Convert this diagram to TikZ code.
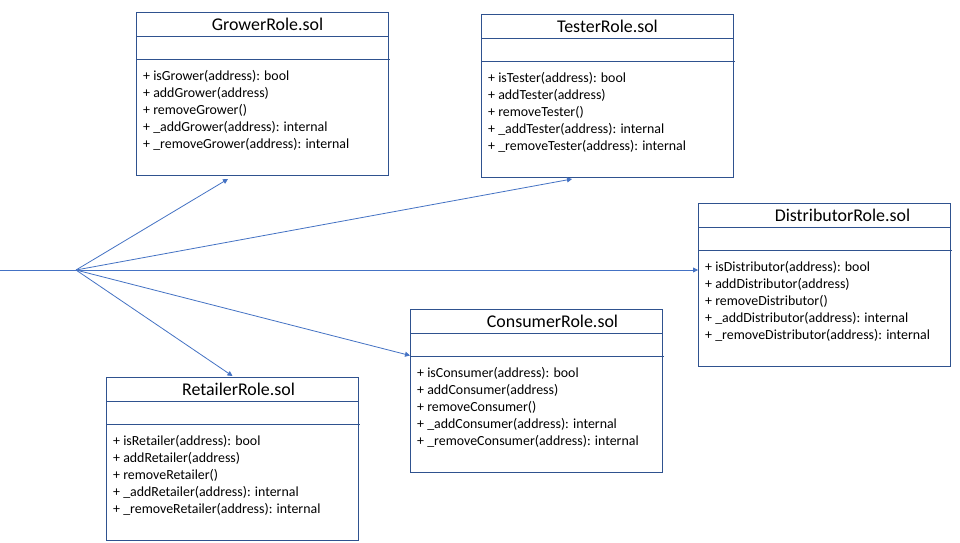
\documentclass[tikz,border=0pt]{standalone}
\usepackage{fontspec}
\setmainfont{Carlito}
\usetikzlibrary{arrows.meta}
\definecolor{boxc}{HTML}{2F528F}
\definecolor{arrc}{HTML}{4472C4}
\tikzset{
  boxnode/.style={draw=boxc, line width=1pt, minimum width=252pt, minimum height=163pt, inner sep=0pt},
  sepline/.style={draw=boxc, line width=0.9pt},
  titletext/.style={font=\fontsize{17.9}{20}\selectfont, inner sep=0pt, text=black},
  methtext/.style={font=\fontsize{13.9}{16}\selectfont, inner sep=0pt, anchor=west, text=black},
  conn/.style={draw=arrc, line width=0.8pt},
  arr/.style={conn, -{Triangle[width=5pt,length=5pt]}}
}
\newcommand\roleBox[5]{% #1 name, #2 x, #3 y, #4 word, #5 title dx
  \node[boxnode, anchor=north west] (#1) at (#2,#3) {};
  \draw[sepline] ([yshift=-24.5pt]#1.north west) -- ([yshift=-24.5pt]#1.north east);
  \draw[sepline] ([yshift=-47.5pt]#1.north west) -- ([xshift=1.2pt,yshift=-47.5pt]#1.north east);
  \node[titletext] (#1-title) at ([xshift=#5pt,yshift=-12.5pt]#1.north) {#4Role.sol};
  \node[methtext] (#1-m1) at ([xshift=7pt,yshift=-64pt]#1.north west) {+ is#4(address): bool};
  \node[methtext] (#1-m2) at ([xshift=7pt,yshift=-81.5pt]#1.north west) {+ add#4(address)};
  \node[methtext] (#1-m3) at ([xshift=7pt,yshift=-98.5pt]#1.north west) {+ remove#4()};
  \node[methtext] (#1-m4) at ([xshift=7pt,yshift=-115.5pt]#1.north west) {+ \_add#4(address): internal};
  \node[methtext] (#1-m5) at ([xshift=7pt,yshift=-132pt]#1.north west) {+ \_remove#4(address): internal};
}
\begin{document}
\begin{tikzpicture}[x=1pt,y=-1pt]
  \useasboundingbox (0,0) rectangle (960,542);
  \fill[white] (0,0) rectangle (960,542);
  \roleBox{grower}{136}{12}{Grower}{5}
  \roleBox{tester}{481}{14}{Tester}{0}
  \roleBox{distributor}{698}{203}{Distributor}{18}
  \roleBox{consumer}{410}{309}{Consumer}{16}
  \roleBox{retailer}{106}{377}{Retailer}{6}
  \coordinate (start) at (0,270);
  \coordinate (hub) at (76,270);
  \coordinate (gT) at ([xshift=92pt,yshift=-3pt]grower.south west);
  \coordinate (tT) at ([xshift=91pt,yshift=-1pt]tester.south west);
  \coordinate (dT) at (hub -| distributor.west);
  \coordinate (cT) at ([yshift=-46.5pt]consumer.north west);
  \coordinate (rT) at ([yshift=1pt]retailer.north);
  \draw[arr] (start) -- (dT);
  \draw[arr] (hub) -- (gT);
  \draw[arr] (hub) -- (tT);
  \draw[arr] (hub) -- (cT);
  \draw[arr] (hub) -- (rT);
\end{tikzpicture}
\end{document}
